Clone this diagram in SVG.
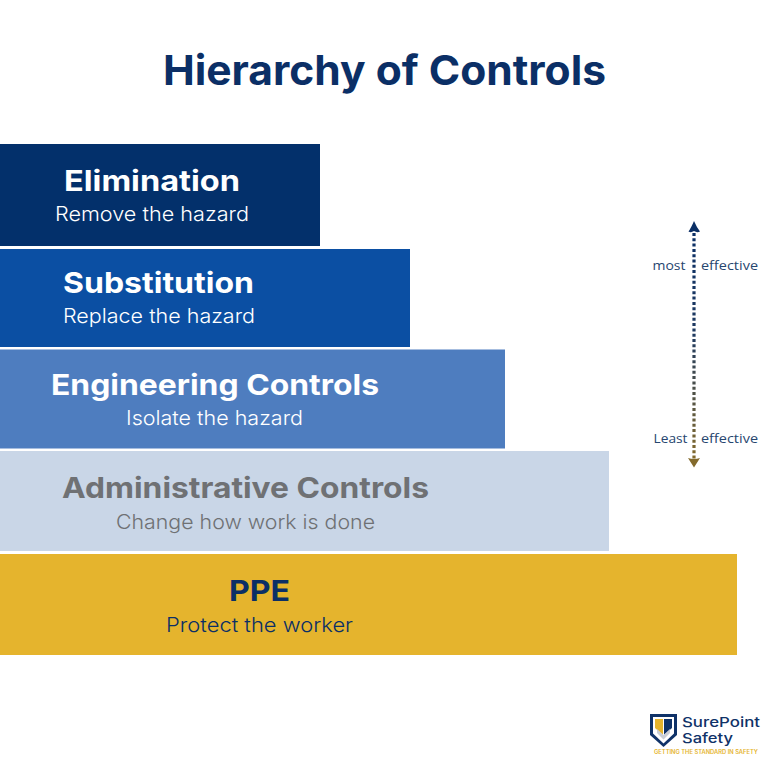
<svg xmlns="http://www.w3.org/2000/svg" width="768" height="772" viewBox="0 0 768 772">
<style>
text{font-family:"Inter","Liberation Sans",sans-serif;text-anchor:start}
.h{font-size:29px;font-weight:700}
.s{font-size:20px;font-weight:300}
.a{font-size:13.5px;font-weight:400;fill:#27466f;font-family:"Open Sans","Liberation Sans",sans-serif}
.w{fill:#fff}
.n{fill:#0b2f66}
.g{fill:#6f7174}
</style>
<defs>
<linearGradient id="dots" gradientUnits="userSpaceOnUse" x1="0" y1="232" x2="0" y2="458">
<stop offset="0" stop-color="#0b2f66"/><stop offset="0.45" stop-color="#1f3a60"/><stop offset="1" stop-color="#836a2c"/>
</linearGradient>
</defs>
<rect width="768" height="772" fill="#fff"/>
<text id="title" x="163" y="85" font-weight="700" fill="#0b2f66" textLength="443" lengthAdjust="spacingAndGlyphs" style="font-size:41px">Hierarchy of Controls</text>
<g id="elimination">
<rect x="0" y="144" width="320" height="102" fill="#03306b"/>
<text class="h w" x="64" y="191" textLength="176" lengthAdjust="spacingAndGlyphs">Elimination</text>
<text class="s w" x="55" y="221" textLength="194" lengthAdjust="spacingAndGlyphs">Remove the hazard</text>
</g>
<g id="substitution">
<rect x="0" y="249" width="410" height="98" fill="#0b4fa3"/>
<text class="h w" x="63" y="293" textLength="191" lengthAdjust="spacingAndGlyphs">Substitution</text>
<text class="s w" x="63" y="323" textLength="192" lengthAdjust="spacingAndGlyphs">Replace the hazard</text>
</g>
<g id="engineering">
<rect x="0" y="349.500" width="505" height="99" fill="#4e7dbf"/>
<text class="h w" x="51" y="395" textLength="328" lengthAdjust="spacingAndGlyphs">Engineering Controls</text>
<text class="s w" x="126" y="425" textLength="177" lengthAdjust="spacingAndGlyphs">Isolate the hazard</text>
</g>
<g id="administrative">
<rect x="0" y="451" width="609" height="100" fill="#c9d6e7"/>
<text class="h g" x="62" y="498" textLength="367" lengthAdjust="spacingAndGlyphs">Administrative Controls</text>
<text class="s g" x="116" y="529" textLength="259" lengthAdjust="spacingAndGlyphs">Change how work is done</text>
</g>
<g id="ppe">
<rect x="0" y="554" width="737" height="101" fill="#e5b42d"/>
<text class="h n" x="229" y="601" textLength="61" lengthAdjust="spacingAndGlyphs">PPE</text>
<text class="s n" x="166" y="632" textLength="187" lengthAdjust="spacingAndGlyphs">Protect the worker</text>
</g>
<g id="connectors">
<line x1="694" y1="233" x2="694" y2="459" stroke="url(#dots)" stroke-width="3.200" stroke-dasharray="3 2.300"/>
<path d="M688.500 231.500 Q691 228 694 221 Q697 228 700 231.500 Q697 233 694 231 Q691 233 688.500 231.500 Z" fill="#0b2f66"/>
<path d="M688 458 Q694 460 700 458 L694 467.500 Z" fill="#836a2c"/>
</g>
<g id="scale-labels">
<text class="a" x="652.500" y="270" textLength="33" lengthAdjust="spacingAndGlyphs">most</text>
<text class="a" x="701" y="270" textLength="57" lengthAdjust="spacingAndGlyphs">effective</text>
<text class="a" x="653.500" y="443" textLength="34" lengthAdjust="spacingAndGlyphs">Least</text>
<text class="a" x="701" y="443" textLength="57" lengthAdjust="spacingAndGlyphs">effective</text>
</g>
<g id="logo">
<path d="M650 714 H677 V735 L663.500 747 L650 735 Z" fill="#0f3268"/>
<path d="M653 717 H674 V733.500 L663.500 743.500 L653 733.500 Z" fill="#fff"/>
<path d="M655 719 H663 V735 L655 728 Z" fill="#e5b42d"/>
<path d="M664 719 H672 V728 L664 735 Z" fill="#0f3268"/>
<path d="M657 729 L663.500 735 L670 729 V733 L663.500 739.500 L657 733 Z" fill="#c9ced6"/>
<text x="682" y="727" font-weight="500" fill="#0f3268" textLength="78" lengthAdjust="spacingAndGlyphs" style="font-size:13.500px">SurePoint</text>
<text x="682" y="743" font-weight="500" fill="#0f3268" textLength="51" lengthAdjust="spacingAndGlyphs" style="font-size:13.500px">Safety</text>
<text x="654" y="754" font-weight="600" fill="#e5b42d" textLength="104" lengthAdjust="spacingAndGlyphs" style="font-size:5.500px">GETTING THE STANDARD IN SAFETY</text>
</g>
</svg>
